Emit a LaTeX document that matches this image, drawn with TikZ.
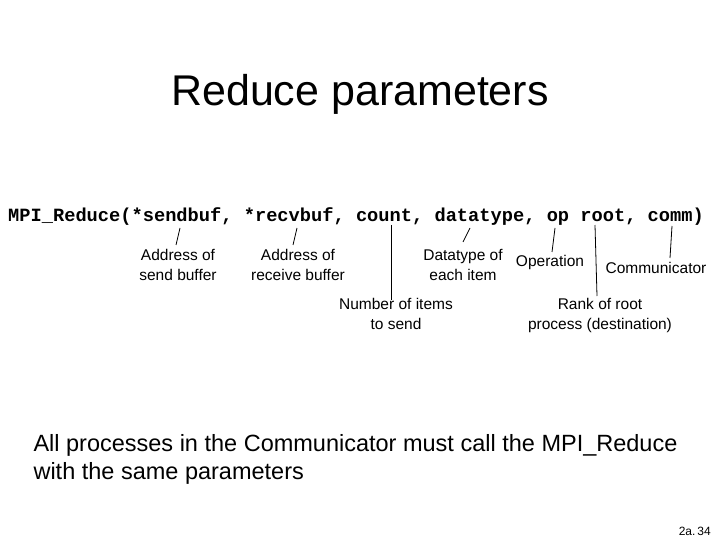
\documentclass[tikz,border=0pt]{standalone}
\usepackage{fontspec}
\setmainfont{Liberation Sans}
\newfontfamily\codefont{Liberation Mono}
\usepackage{tikz}

\begin{document}
\begin{tikzpicture}[x=1pt,y=-1pt,
    note/.style={align=center, font=\fontsize{15.5}{20}\selectfont, inner sep=0pt},
    lead/.style={black, thick}]
            %% frame
            \useasboundingbox (0,0) rectangle (720,540);

            \node (title) at (360,94) {\fontsize{43}{48}\selectfont Reduce parameters};

            %% call
            \node[anchor=west, inner sep=0pt] (call) at (8,217)
                {\codefont\bfseries\fontsize{18.7}{21}\selectfont MPI\_Reduce(*sendbuf, *recvbuf, count, datatype, op root, comm)};

            \node[note] (sbuf) at (178,265) {Address of\\send buffer};
            \node[note] (rbuf) at (298,265) {Address of\\receive buffer};
            \node[note] (dtype) at (463,265) {Datatype of\\each item};
            \node[note] (oper) at (550,262) {Operation};
            \node[note] (comm) at (656,268) {Communicator};
            \node[note] (cnt) at (396,314) {Number of items\\to send};
            \node[note] (root) at (600,315) {Rank of root\\process (destination)};

            \coordinate (s1) at (180,228);
            \coordinate (r1) at (297,228);
            \coordinate (c1) at (391,225);
            \coordinate (d1) at (470,228);
            \coordinate (o1) at (555,228);
            \coordinate (t1) at (595,225);
            \coordinate (m1) at (672,226);

            \draw[lead] (s1) -- (176,245);
            \draw[lead] (r1) -- (293,245);
            \draw[lead] (c1) -- (391,300);
            \draw[lead] (d1) -- (463,242);
            \draw[lead] (o1) -- (552,252);
            \draw[lead] (t1) -- (597,296);
            \draw[lead] (m1) -- (670,258);

            %% remark
            \node[anchor=west, align=left, font=\fontsize{23.5}{28}\selectfont] (remark) at (30,459)
                {All processes in the Communicator must call the MPI\_Reduce\\with the same parameters};

            \node[anchor=east, inner sep=1pt, font=\fontsize{12}{14}\selectfont] (page) at (712,531) {2a.\,34};
\end{tikzpicture}
\end{document}
